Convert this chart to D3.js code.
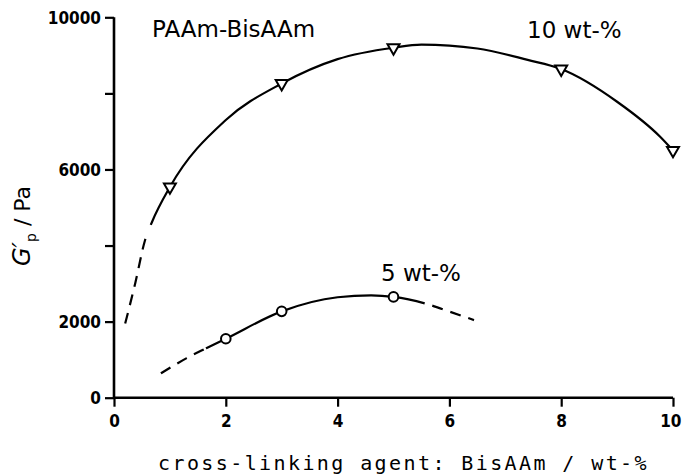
<!DOCTYPE html>
<html><head><meta charset="utf-8">
<script src="https://cdn.jsdelivr.net/npm/d3@7"></script>
<style>
html,body{margin:0;padding:0;background:#fff;}
svg{display:block;}
.tick-label{font-family:"DejaVu Sans Condensed","DejaVu Sans",sans-serif;font-stretch:condensed;font-weight:bold;font-size:17px;fill:#000;}
.anno{font-family:"DejaVu Sans",sans-serif;font-size:23px;fill:#000;}
.xtitle{font-family:"DejaVu Sans Mono",monospace;font-size:20px;fill:#000;letter-spacing:2.4px;}
</style>
</head><body>
<svg id="chart" width="682" height="476"></svg>
<script>
// ---- data ----
const xTicks = [0, 2, 4, 6, 8, 10];
const yTicks = [0, 2000, 4000, 6000, 8000, 10000];
const yTickLabels = ["0", "2000", "", "6000", "", "10000"];

// 10 wt-% measured points (open down-triangles)
const x10 = [1, 3, 5, 8, 10];
const y10 = [5540, 8260, 9200, 8640, 6500];
// 10 wt-% drawn curve; solid between solid10[0] and solid10[1]
const curve10 = [[0.2, 1950], [0.38, 3010], [0.555, 4140], [0.68, 4620], [1, 5540], [2, 7300], [3, 8260], [4, 8900], [5, 9200], [5.5, 9280], [6.5, 9180], [7.4, 8880], [8, 8640], [9, 7780], [9.77, 6860], [10, 6500]];
const solid10 = [0.66, 10];

// 5 wt-% measured points (open circles)
const x5 = [2, 3, 5];
const y5 = [1550, 2270, 2650];
const curve5 = [[0.84, 640], [1.3, 1040], [1.65, 1300], [2, 1550], [3, 2270], [4, 2640], [4.6, 2690], [5, 2650], [5.56, 2480], [6.01, 2260], [6.44, 2040]];
const solid5 = [1.65, 5.56];

const labels = {
  title: "PAAm-BisAAm",
  s10: "10 wt-%",
  s5: "5 wt-%",
  xTitle: "cross-linking agent: BisAAm / wt-%"
};

// ---- layout ----
const svg = d3.select("#chart");
const x = d3.scaleLinear().domain([0, 10]).range([114, 673]);
const y = d3.scaleLinear().domain([0, 10000]).range([397.7, 17.3]);

const axisW = 2.6;
// x axis
const xAxis = d3.axisBottom(x).tickValues(xTicks).tickSize(9).tickSizeOuter(0).tickFormat(d3.format("d"));
const gx = svg.append("g").attr("transform", `translate(0,${y(0)})`).call(xAxis);
gx.select(".domain").attr("stroke", "#000").attr("stroke-width", axisW).attr("d", `M${x(0)},0H${x(10)}`);
gx.selectAll(".tick line").attr("stroke", "#000").attr("stroke-width", 2.2);
gx.selectAll(".tick text").attr("class", "tick-label").attr("y", 17).attr("dy", "0.71em")
  .filter(d => d === 10).attr("text-anchor", "end").attr("x", 8);

// y axis
const yAxis = d3.axisLeft(y).tickValues(yTicks).tickSize(9).tickSizeOuter(0).tickFormat((d, i) => yTickLabels[i]);
const gy = svg.append("g").attr("transform", `translate(${x(0)},0)`).call(yAxis);
gy.select(".domain").attr("stroke", "#000").attr("stroke-width", axisW).attr("d", `M0,${y(0)}V${y(10000)}`);
gy.selectAll(".tick line").attr("stroke", "#000").attr("stroke-width", 2.2);
gy.selectAll(".tick text").attr("class", "tick-label").attr("x", -13).attr("dy", "0.36em");

// curves: one smooth path each, dashed outside the solid range
const line = d3.line().x(d => x(d[0])).y(d => y(d[1])).curve(d3.curveMonotoneX);
function drawCurve(pts, solidRange) {
  const p = svg.append("path").datum(pts).attr("d", line)
    .attr("fill", "none").attr("stroke", "#000").attr("stroke-width", 2.2)
    .attr("stroke-linecap", "butt");
  const node = p.node();
  const L = node.getTotalLength();
  const xs0 = x(solidRange[0]), xs1 = x(solidRange[1]);
  let l0 = 0, l1 = L;
  for (let l = 0; l <= L; l += 0.5) {
    const pt = node.getPointAtLength(l);
    if (pt.x < xs0) l0 = l;
    if (pt.x <= xs1) l1 = l;
  }
  const dash = 11, gap = 8;
  const arr = [];
  let pos = 0;
  while (pos + dash < l0) { arr.push(dash, gap); pos += dash + gap; }
  if (arr.length) { arr[arr.length - 1] += (l0 - pos); } else { arr.push(0, l0); }
  arr.push(l1 - l0);
  pos = l1;
  arr.push(gap); pos += gap;
  while (pos < L) { arr.push(dash, gap); pos += dash + gap; }
  p.attr("stroke-dasharray", arr.join(","));
}
drawCurve(curve10, solid10);
drawCurve(curve5, solid5);

// markers
const tri = d3.symbol().type(d3.symbolTriangle).size(62);
svg.append("g").selectAll("path").data(x10.map((v, i) => [v, y10[i]])).join("path")
  .attr("d", tri)
  .attr("transform", d => `translate(${x(d[0])},${y(d[1])}) rotate(180)`)
  .attr("fill", "#fff").attr("stroke", "#000").attr("stroke-width", 2);
svg.append("g").selectAll("circle").data(x5.map((v, i) => [v, y5[i]])).join("circle")
  .attr("cx", d => x(d[0])).attr("cy", d => y(d[1])).attr("r", 4.8)
  .attr("fill", "#fff").attr("stroke", "#000").attr("stroke-width", 2);

// annotations
svg.append("text").attr("class", "anno").attr("x", 152).attr("y", 37).text(labels.title);
svg.append("text").attr("class", "anno").attr("x", 527).attr("y", 38).text(labels.s10);
svg.append("text").attr("class", "anno").attr("x", 381).attr("y", 281).text(labels.s5);

// x title
svg.append("text").attr("class", "xtitle").attr("x", (x(0) + x(10)) / 2 + 10).attr("y", 470)
  .attr("text-anchor", "middle").text(labels.xTitle);

// y title
const yt = svg.append("text").attr("transform", "translate(30,226) rotate(-90)")
  .attr("text-anchor", "middle").attr("font-family", "DejaVu Sans, sans-serif").attr("font-size", 22).attr("fill", "#000");
yt.append("tspan").attr("font-style", "italic").attr("font-size", 24).text("G′");
yt.append("tspan").attr("font-size", 14).attr("dy", 6).text("p");
yt.append("tspan").attr("dy", -6).text(" / Pa");
</script>
</body></html>
